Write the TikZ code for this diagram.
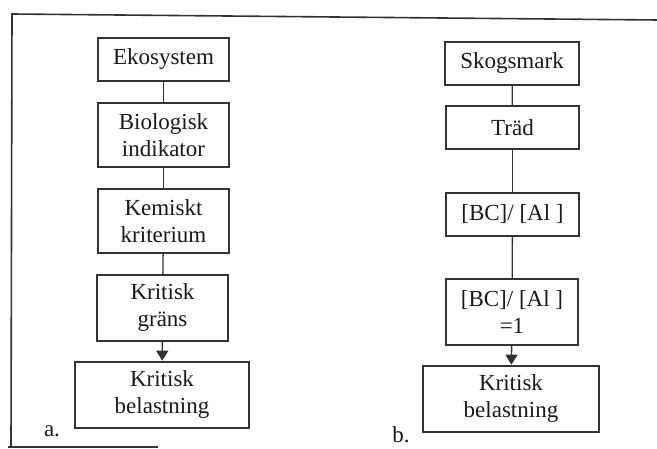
\documentclass[tikz,border=0pt]{standalone}
\usepackage{fontspec}
\setmainfont{Liberation Serif}
\usetikzlibrary{arrows.meta}
\begin{document}
\begin{tikzpicture}[x=1pt,y=-1pt,
  every node/.style={font=\fontsize{23}{27}\selectfont, text=black!90},
  box/.style={draw=black!80, line width=1.6pt, align=center, inner sep=0pt, minimum width=#1},
  box/.default=131pt,
  thickbox/.style={draw=black!80, line width=2.6pt, align=center, inner sep=0pt, minimum width=#1, minimum height=66pt},
  link/.style={draw=black!80, line width=1.3pt},
  arr/.style={draw=black!80, line width=1.4pt, -{Triangle[width=12pt,length=10pt]}},
  frame/.style={draw=black!80, line width=1.6pt}]
\useasboundingbox (0,0) rectangle (657,449);
% frame
\draw[frame] (657,20) -- (12,14) -- (11,447) ;
\draw[frame] (8,447) -- (158,447);
% left column
\node[box, minimum height=43pt] (e1) at (163.5,59.5) {Ekosystem};
\node[box, minimum height=64pt] (e2) at (163.5,135) {Biologisk\\indikator};
\node[box, minimum height=64pt] (e3) at (163.5,221) {Kemiskt\\kriterium};
\node[box, minimum height=66pt] (e4) at (162.5,308) {Kritisk\\gräns};
\node[thickbox=174pt] (e5) at (162,395) {Kritisk\\belastning};
\draw[link] (e1) -- (e2);
\draw[link] (e2) -- (e3);
\draw[link] (e3) -- (e4);
\draw[arr] (e4) -- (e5);
\node (la) at (52,431) {a.};
% right column
\node[box=134pt, minimum height=43pt] (s1) at (512,63.5) {Skogsmark};
\node[box=133pt, minimum height=43pt] (s2) at (512.5,127.5) {Träd};
\node[box=133pt, minimum height=43pt] (s3) at (512.5,214.5) {[BC]/ [Al ]};
\node[box=132pt, minimum height=66pt] (s4) at (512,312) {[BC]/ [Al ]\\=1};
\node[thickbox=176pt] (s5) at (511,399) {Kritisk\\belastning};
\draw[link] (s1) -- (s2);
\draw[link] (s2) -- (s3);
\draw[link] (s3) -- (s4);
\draw[arr] (s4) -- (s5);
\node (lb) at (401,435) {b.};
\end{tikzpicture}
\end{document}
